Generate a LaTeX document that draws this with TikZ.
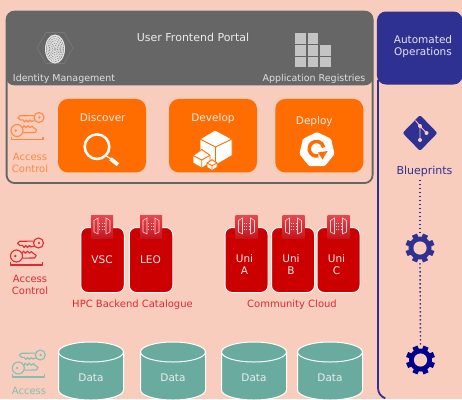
\documentclass[tikz,border=0pt]{standalone}
\usepackage{fontspec}
\setmainfont{DejaVu Sans}
\usetikzlibrary{shapes.geometric,calc}
\definecolor{bgc}{HTML}{F9CDBE}
\definecolor{hdr}{HTML}{666666}
\definecolor{navy}{HTML}{2E3092}
\definecolor{orng}{HTML}{FF6D00}
\definecolor{orngt}{HTML}{FF8A3D}
\definecolor{redb}{HTML}{CC0000}
\definecolor{redt}{HTML}{DE2A30}
\definecolor{tealb}{HTML}{69AB9E}
\definecolor{tealt}{HTML}{83BFB2}
\definecolor{lgray}{HTML}{C4C4C4}
\tikzset{
  wtext/.style={text=white!92!black,font=\fontsize{10.5}{12}\selectfont,inner sep=0pt,align=center},
  smalltext/.style={text=white!88!black,font=\fontsize{9.5}{11}\selectfont,inner sep=0pt},
  lbltext/.style={font=\fontsize{10}{12}\selectfont,inner sep=0pt,align=center},
  actext/.style={font=\fontsize{10}{12}\selectfont,inner sep=0pt,align=center},
  orangebox/.style={fill=orng,rounded corners=10pt,inner sep=0pt},
  redbox/.style={fill=redb,draw=white,line width=1pt,rounded corners=7pt,inner sep=0pt},
  dots/.style={navy,line width=1.4pt,dash pattern=on 1.5pt off 2.5pt},
  regcell/.style={fill=lgray,inner sep=0pt,minimum size=10.6pt},
}
% key icon: offset, colour
\newcommand{\keysicon}[3]{%
\begin{scope}[shift={(#1,#2)},draw=#3,line width=1.1pt,line join=round]
  \draw (39,117.5) circle (5);
  \fill[#3] (39.4,117.5) circle (1.3);
  \draw (34.2,115.6) -- (20,115.8) -- (18,117.8) -- (20.5,120) -- (23,119.8) -- (24.5,122) -- (26.5,120) -- (28,122) -- (30,120) -- (31.5,121.5) -- (34.5,120.5);
  \draw (17,130.5) circle (6);
  \fill[#3] (15.8,130.5) circle (1.3);
  \draw (22.5,128) -- (24,125.6) -- (26,127.8) -- (28,125.6) -- (30,127.8) -- (32,126) -- (33.5,127.6) -- (36.8,130) -- (35,132.5) -- (22.8,132.6);
  \draw (11.3,136.8) -- (11.3,139.5) -- (43,139.5) -- (43,136.8);
\end{scope}}
% gate icon centred at x,y
\newcommand{\gateicon}[2]{%
\begin{scope}[shift={(#1,#2)}]
  \shade[top color={rgb,255:red,234;green,72;blue,78},bottom color={rgb,255:red,196;green,22;blue,32}] (-11,-11.5) rectangle (11,11.5);
  \draw[white!85!red,line width=0.6pt] (-8,-6) -- (-4,-8.5) -- (-4,7.5) -- (-8,5.5) -- cycle;
  \draw[white!85!red,line width=0.6pt] (8,-6) -- (4,-8.5) -- (4,7.5) -- (8,5.5) -- cycle;
  \draw[white!85!red,line width=0.5pt,dotted] (-3,-3) -- (3,-3) (-3,0) -- (3,0) (-3,3) -- (3,3);
\end{scope}}
% cylinder
\newcommand{\datacyl}[3]{%
  \draw[fill=tealb,draw=white,line width=1pt] (#1,352) -- (#1,390) arc[start angle=180,end angle=0,x radius=#3,y radius=10]
     -- ({#1+2*#3},352) -- cycle;
  \draw[fill=tealb,draw=white,line width=1pt] ({#1+#3},352) ellipse[x radius=#3,y radius=10];
  \node[wtext] (#2) at ({#1+#3},377.5) {Data};}
% gear
\newcommand{\gearicon}[4]{%
  \node[circle,inner sep=0pt,minimum size=30pt] (#1) at (#2,#3) {};
  \begin{scope}[shift={(#2,#3)}]
    \fill[#4] (0,0) circle (11.5);
    \foreach \a in {0,45,...,315}{\fill[#4,rotate=\a+22.5] (-2.7,-14.5) rectangle (2.7,0);}
    \fill[bgc] (0,0) circle (6.6);
  \end{scope}}
\begin{document}
\begin{tikzpicture}[x=1pt,y=-1pt]
\useasboundingbox (0,0) rectangle (462,399);
\clip (0,0) rectangle (462,399);
\fill[bgc] (0,0) rectangle (462,399);

% main panel
\node[draw=hdr,line width=1.8pt,rounded corners=8pt,minimum width=366pt,minimum height=171.5pt,inner sep=0pt] (mainpanel) at (189.6,97.3) {};
\node[fill=hdr,rounded corners=8pt,minimum width=367pt,minimum height=74pt,inner sep=0pt] (header) at (189.6,48.3) {};
\node[wtext,font=\fontsize{11}{12}\selectfont,anchor=base] (portal) at (193,41.5) {User Frontend Portal};

% fingerprint
\node[draw=white!50!hdr,line width=0.4pt,regular polygon,regular polygon sides=6,minimum size=36pt,inner sep=0pt,opacity=.35] (hexid) at (55,48) {};
\node[ellipse,fill=white!90!black,minimum width=20pt,minimum height=29pt,inner sep=0pt] (fingerprint) at (55,49) {};
\foreach \r in {1.2,2.7,4.2,5.7,7.2,8.7}{\draw[gray,line width=0.55pt,dash pattern=on 1.6pt off 0.9pt] (55,49) ellipse[x radius=\r,y radius=\r*1.45];}
\node[smalltext,anchor=base] (idm) at (64,81.5) {Identity Management};

% registries
\foreach \n/\x/\y in {a/300.6/38.3,b/313/38.3,c/300.6/50.3,d/313/50.3,e/325.6/50.3,f/300.6/61.8,g/313/61.8,h/325.6/61.8}{
  \node[regcell] (reg\n) at (\x,\y) {};
}
\node[smalltext,anchor=base] (appreg) at (314,81.5) {Application Registries};

% orange boxes
\node[orangebox,minimum width=88pt,minimum height=73.5pt] (discover) at (102,135.7) {};
\node[orangebox,minimum width=88pt,minimum height=73.5pt] (develop) at (213,135.7) {};
\node[orangebox,minimum width=88pt,minimum height=73.5pt] (deploy) at (319.3,135.7) {};
\node[wtext,anchor=base] (discovert) at (102.7,121) {Discover};
\node[wtext,anchor=base] (developt) at (213,121) {Develop};
\node[wtext,anchor=base] (deployt) at (314.3,124) {Deploy};

% magnifier
\draw[white,line width=2.5pt] (97,146.7) circle (12.3);
\draw[white,line width=1.2pt] (105.5,155.5) -- (111,159);
\draw[white,line width=3.8pt] (110.5,158.8) -- (118,164.6);

% cubes
\begin{scope}[fill=white,draw=orng,line width=0.9pt,line join=round]
  \filldraw (215,130) -- (200,139) -- (200,155) -- (216,165) -- (232,155.7) -- (232,139) -- cycle;
  \draw (200,139) -- (215.5,147) -- (232,139) (215.5,147) -- (215.5,165);
  \filldraw (201.7,149.5) -- (193,155.5) -- (193,163) -- (201.7,168.2) -- (210,163) -- (210,155.3) -- cycle;
  \draw (193,155.5) -- (201.7,160) -- (210,155.3) (201.7,160) -- (201.7,168.2);
  \filldraw (212,159.7) -- (207,163) -- (207,167.5) -- (212,170.5) -- (217,167.5) -- (217,163) -- cycle;
  \draw (207,163) -- (212,165.7) -- (217,163) (212,165.7) -- (212,170.5);
\end{scope}

% deploy icon
\node[regular polygon,regular polygon sides=7,fill=white,minimum size=36pt,inner sep=0pt,rounded corners=1.5pt] (helm) at (317,150) {};
\draw[orng,line width=3.5pt] (318.4,155.75) arc[start angle=75,end angle=350,radius=7.3];
\fill[orng] (318,152.5) -- (327.5,151) -- (322.5,159.5) -- cycle;

% access labels + keys
\keysicon{0}{0}{orngt}
\node[actext,text=orngt] (acorange) at (30,162.5) {Access\\Control};
\keysicon{-0.5}{125.5}{redt}
\node[actext,text=redt] (acred) at (30,285) {Access\\Control};
\keysicon{1.3}{237.5}{tealt}
\node[actext,text=tealt] (acteal) at (29,391) {Access};

% red boxes
\node[redbox,minimum width=43.5pt,minimum height=65pt] (vsc) at (102.5,260) {};
\node[redbox,minimum width=43.5pt,minimum height=65pt] (leo) at (151,260) {};
\node[redbox,minimum width=43pt,minimum height=65pt] (unia) at (246.5,260) {};
\node[redbox,minimum width=43pt,minimum height=65pt] (unib) at (293,260) {};
\node[redbox,minimum width=43pt,minimum height=65pt] (unic) at (338.5,260) {};
\gateicon{102}{226.5}
\gateicon{151}{226.5}
\gateicon{246.5}{226.5}
\gateicon{293.5}{226.5}
\gateicon{338.5}{226.5}
\node[wtext] (vsct) at (102,259.5) {VSC};
\node[wtext] (leot) at (150.5,259.5) {LEO};
\node[wtext] (uniat) at (244.5,265) {Uni\\A};
\node[wtext] (unibt) at (291,265) {Uni\\B};
\node[wtext] (unict) at (336.5,265) {Uni\\C};
\node[lbltext,text=redt] (hpc) at (132.5,304.3) {HPC Backend Catalogue};
\node[lbltext,text=redt] (community) at (292,304.3) {Community Cloud};

% data
\datacyl{58.5}{dataa}{32.5}
\datacyl{140.5}{datab}{32.5}
\datacyl{221.5}{datac}{32.5}
\datacyl{297.5}{datad}{32.5}

% right panel
\draw[navy,line width=1.8pt] (378,80) -- (378,388) arc[start angle=180,end angle=110,radius=11];
\node[fill=navy,rounded corners=9pt,minimum width=85.5pt,minimum height=73pt,inner sep=0pt] (opshead) at (419.7,48) {};
\node[wtext,text=white!90!black] (ops) at (423,46.5) {Automated\\Operations};

% git diamond
\node[diamond,fill=navy,minimum width=35pt,minimum height=36pt,inner sep=0pt,rounded corners=2pt] (git) at (420,133) {};
\draw[bgc,line width=0.9pt] (415.5,120.5) -- (420,126) -- (420,140) (420,126) -- (426.5,133);
\fill[bgc] (420,126) circle (2) (426.5,133) circle (2) (420,140) circle (2);

\node[lbltext,text=navy,font=\fontsize{11}{12}\selectfont] (blueprints) at (424.5,171) {Blueprints};
\gearicon{gearone}{420}{248}{navy}
\gearicon{geartwo}{420.5}{360}{blue!55!black}
\draw[dots] ($(blueprints.south -| gearone.north)+(0,3)$) -- (gearone.north);
\draw[dots] (gearone.south) -- (geartwo.north);
\end{tikzpicture}
\end{document}
